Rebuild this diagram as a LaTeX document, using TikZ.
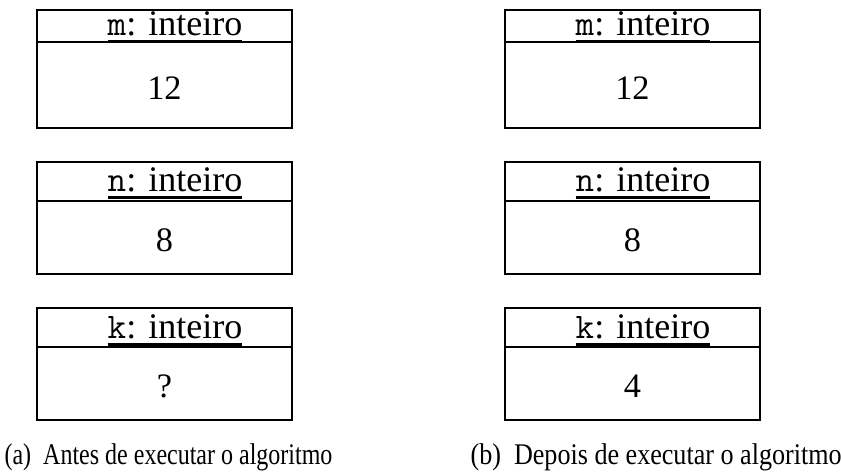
\documentclass[tikz,border=0pt]{standalone}
\usepackage{fontspec}
\setmainfont{Liberation Serif}
\newcommand\myul[1]{\leavevmode\vtop{\hbox{#1}\kern1.6pt\hrule height 0.75pt}}
\begin{document}
\begin{tikzpicture}[x=0.35pt,y=-0.35pt,
  boxline/.style={line width=0.5pt},
  hdr/.style={font=\fontsize{12.6}{14}\selectfont, inner sep=0pt},
  val/.style={font=\fontsize{12}{14}\selectfont, inner sep=0pt},
  captxt/.style={font=\fontsize{10.5}{12}\selectfont, anchor=base west, inner sep=0pt}]
\useasboundingbox (0,0) rectangle (841,476);
\foreach \xl/\xr in {37/292, 505/760} {
  \draw[boxline] (\xl,10) rectangle (\xr,128);
  \draw[boxline] (\xl,42) -- (\xr,42);
  \draw[boxline] (\xl,162) rectangle (\xr,274);
  \draw[boxline] (\xl,201) -- (\xr,201);
  \draw[boxline] (\xl,308) rectangle (\xr,420);
  \draw[boxline] (\xl,347) -- (\xr,347);
}
\node[hdr] (mhL) at (175,27) {\myul{\texttt{m}: inteiro}};
\node[val] (mvL) at (164.5,88) {12};
\node[hdr] (nhL) at (175,183) {\myul{\texttt{n}: inteiro}};
\node[val] (nvL) at (164.5,240) {8};
\node[hdr] (khL) at (175,330) {\myul{\texttt{k}: inteiro}};
\node[val] (kvL) at (164.5,386) {?};
\node[hdr] (mhR) at (643,27) {\myul{\texttt{m}: inteiro}};
\node[val] (mvR) at (632.5,88) {12};
\node[hdr] (nhR) at (643,183) {\myul{\texttt{n}: inteiro}};
\node[val] (nvR) at (632.5,240) {8};
\node[hdr] (khR) at (643,330) {\myul{\texttt{k}: inteiro}};
\node[val] (kvR) at (632.5,386) {4};
\node[captxt] (capA) at (4,465) {\scalebox{0.8}[1]{(a)\ \ Antes de executar o algoritmo}};
\node[captxt] (capB) at (470,465) {\scalebox{0.87}[1]{(b)\ \ Depois de executar o algoritmo}};
\end{tikzpicture}
\end{document}
